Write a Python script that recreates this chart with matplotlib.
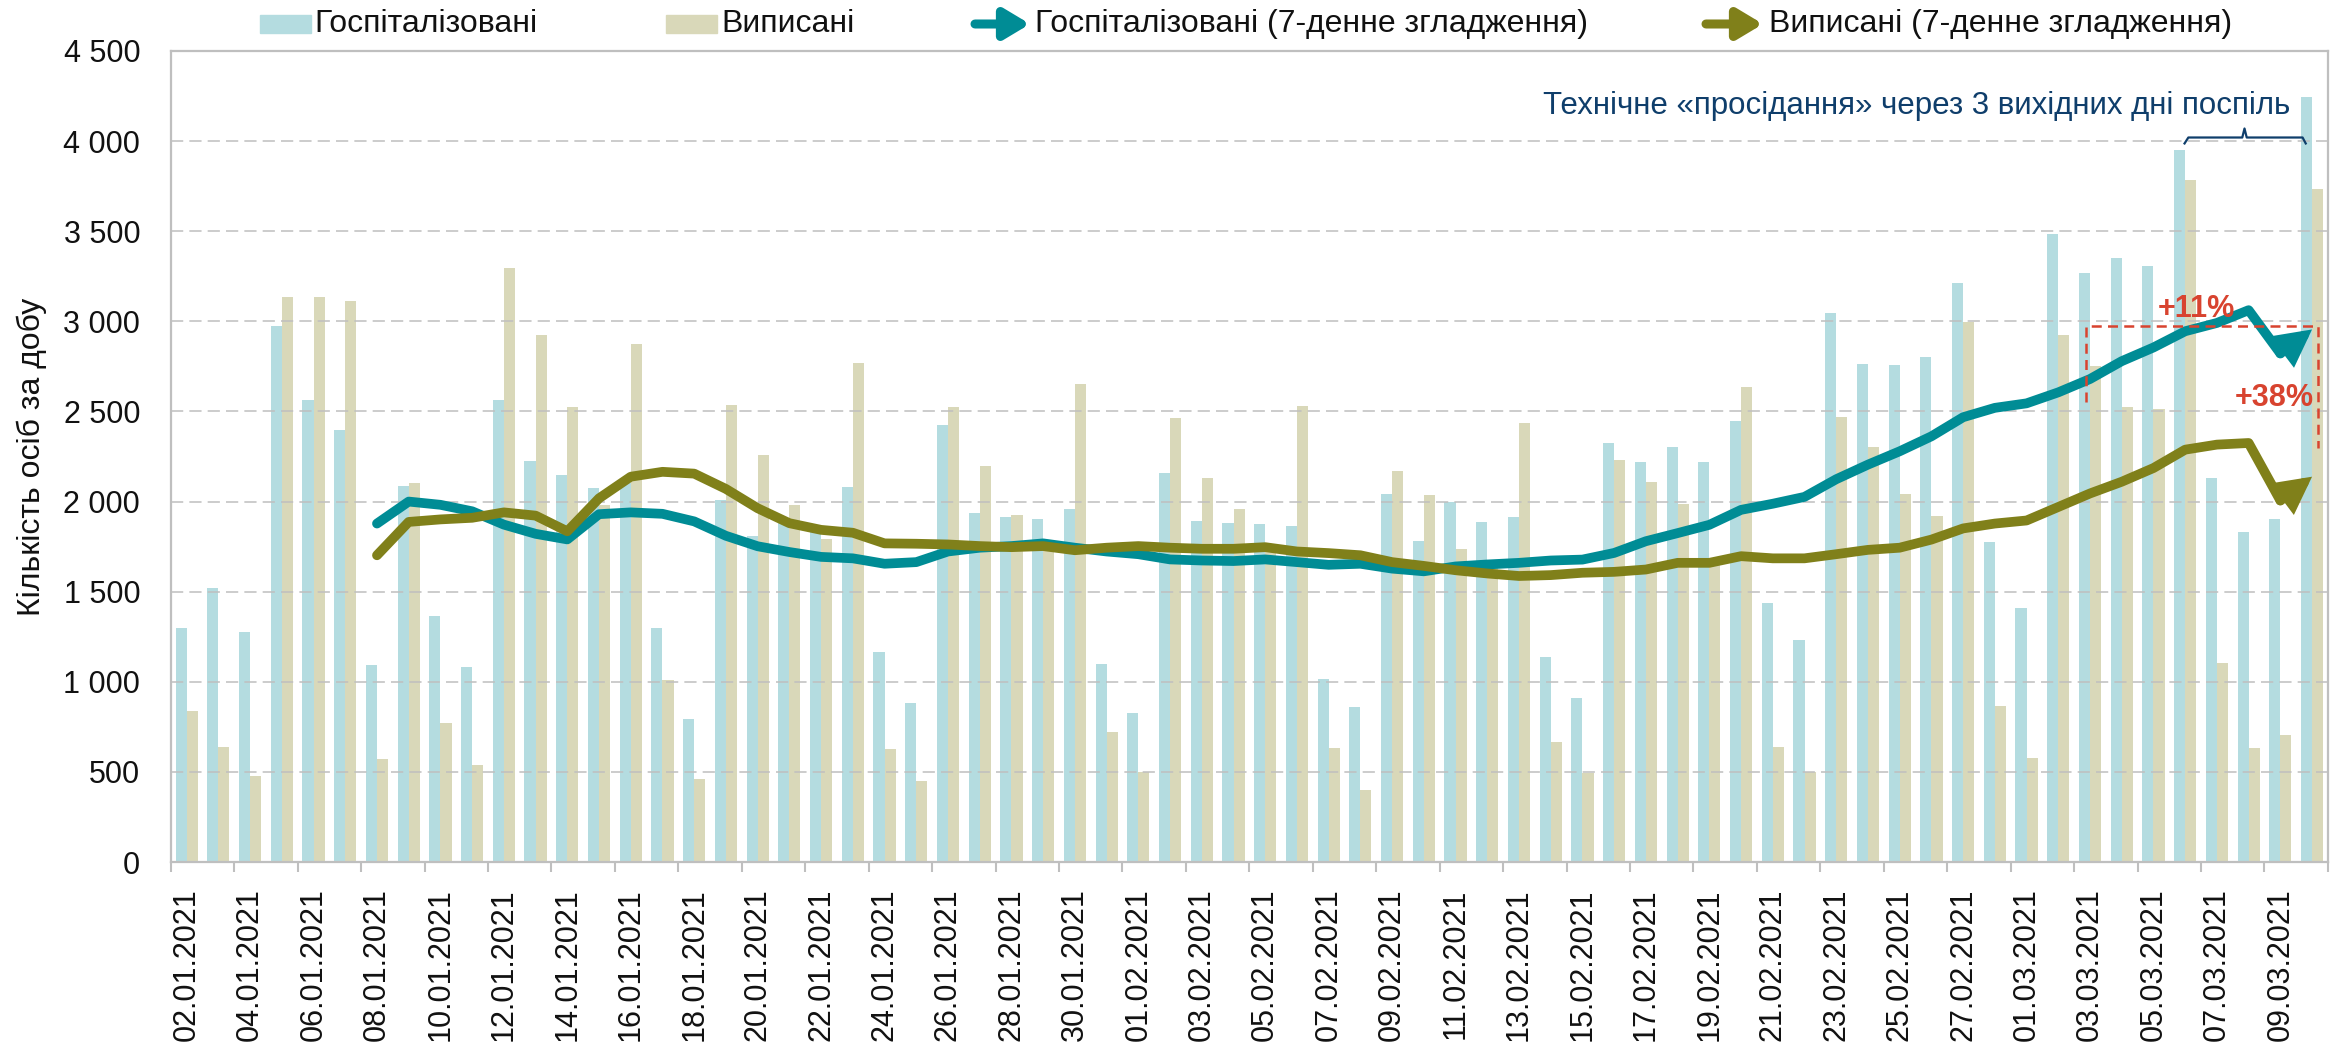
import matplotlib.pyplot as plt
import numpy as np
import pandas as pd
from matplotlib.patches import Rectangle, FancyArrowPatch

plt.rcParams['font.family'] = ['Liberation Sans', 'DejaVu Sans']

# daily values, 02.01.2021 - 10.03.2021
dates = pd.date_range('2021-01-02', '2021-03-10').strftime('%d.%m.%Y').tolist()

hosp = [1298, 1518, 1275, 2974, 2564, 2398, 1093, 2089, 1367, 1084,
        2561, 2225, 2148, 2077, 2101, 1298, 796, 2009, 1811, 1880,
        1840, 2080, 1165, 885, 2427, 1937, 1913, 1904, 1958, 1099,
        829, 2157, 1890, 1881, 1878, 1866, 1016, 862, 2044, 1780,
        2000, 1887, 1914, 1138, 909, 2324, 2218, 2300, 2218, 2445,
        1438, 1233, 3045, 2766, 2757, 2802, 3212, 1777, 1408, 3485,
        3267, 3352, 3307, 3952, 2133, 1833, 1901, 4247]

disch = [838, 636, 475, 3137, 3134, 3114, 570, 2103, 772, 541,
         3295, 2926, 2522, 1980, 2876, 1010, 458, 2537, 2257, 1982,
         1790, 2769, 627, 452, 2522, 2196, 1928, 1760, 2653, 722,
         499, 2463, 2130, 1958, 1740, 2531, 630, 398, 2169, 2038,
         1736, 1630, 2436, 668, 496, 2230, 2107, 1988, 1660, 2635,
         636, 499, 2469, 2303, 2044, 1919, 2998, 868, 579, 2924,
         2751, 2525, 2512, 3783, 1105, 633, 707, 3732]

# 7-day smoothed lines, from 08.01.2021 on
hosp_smooth = [1878, 2000, 1982, 1946, 1872, 1821, 1790, 1930, 1940, 1932,
               1890, 1810, 1752, 1720, 1693, 1685, 1655, 1664, 1723, 1744,
               1753, 1768, 1744, 1723, 1708, 1679, 1673, 1670, 1679, 1664,
               1649, 1655, 1628, 1613, 1640, 1651, 1660, 1673, 1678, 1715,
               1780, 1825, 1871, 1954, 1988, 2026, 2124, 2205, 2279, 2362,
               2468, 2520, 2545, 2606, 2680, 2779, 2855, 2945, 2991, 3062,
               2822, 2955]

disch_smooth = [1702, 1887, 1901, 1910, 1940, 1922, 1835, 2018, 2138, 2165,
                2155, 2070, 1963, 1880, 1843, 1827, 1768, 1766, 1762, 1753,
                1747, 1753, 1730, 1744, 1753, 1744, 1738, 1738, 1747, 1723,
                1714, 1702, 1664, 1643, 1619, 1601, 1587, 1592, 1605, 1610,
                1623, 1660, 1660, 1697, 1685, 1685, 1708, 1732, 1744, 1789,
                1851, 1878, 1895, 1970, 2045, 2110, 2186, 2288, 2316, 2325,
                2006, 2138]

c_blue = '#b4dce0'
c_beige = '#d9d8b9'
c_teal = '#008c95'
c_olive = '#80801a'
c_red = '#d8432f'
c_navy = '#0f3e6b'
c_grey = '#bfbfbf'

fig = plt.figure(figsize=(23.46, 10.45), dpi=100)
ax = fig.add_axes([0.0728, 0.1751, 0.9923 - 0.0728, 0.9512 - 0.1751])

x = np.arange(len(dates))
ax.bar(x - 0.175, hosp, width=0.35, color=c_blue, zorder=1)
ax.bar(x + 0.175, disch, width=0.35, color=c_beige, zorder=1)

xs = x[6:]
for vals, col in [(hosp_smooth, c_teal), (disch_smooth, c_olive)]:
    ax.plot(xs[:-1], vals[:-1], color=col, lw=7, zorder=4,
            solid_capstyle='round', solid_joinstyle='round')
    ax.add_patch(FancyArrowPatch((xs[-2], vals[-2]), (xs[-1], vals[-1]),
                                 arrowstyle='-|>,head_length=0.8,head_width=0.42',
                                 mutation_scale=20, lw=7, color=col,
                                 shrinkA=0, shrinkB=0, zorder=4,
                                 capstyle='round', joinstyle='miter'))

ax.set_xlim(-0.5, len(dates) - 0.5)
ax.set_ylim(0, 4500)
ax.set_yticks(np.arange(0, 4501, 500))
ax.yaxis.set_major_formatter(lambda v, p: f'{v:,.0f}'.replace(',', ' '))
ax.set_xticks(x[::2])
ax.set_xticklabels(dates[::2], rotation=90)
ax.set_xticks(np.arange(-0.5, len(dates), 2), minor=True)
ax.tick_params(axis='x', which='major', length=0, pad=19, labelsize=22, labelcolor='#111111')
ax.tick_params(axis='x', which='minor', length=7, width=1.5, color=c_grey, direction='out')
ax.tick_params(axis='y', length=0, pad=22, labelsize=22, labelcolor='#111111')

ax.yaxis.grid(True, color=c_grey, lw=1.1, ls=(0, (8, 4)))
ax.set_axisbelow(False)
for sp in ax.spines.values():
    sp.set_color(c_grey)
    sp.set_linewidth(1.6)

ax.set_ylabel('Кількість осіб за добу', fontsize=23, color='#111111')
ax.yaxis.set_label_coords(-0.0575, 0.5)

# annotations
ax.text(54.54, 4153, 'Технічне «просідання» через 3 вихідних дні поспіль',
        ha='center', va='baseline', fontsize=22.5, color=c_navy, zorder=6)
ax.plot([62.98, 63.1, 64.8, 64.87, 64.94, 66.7, 66.8],
        [3987, 4020, 4020, 4070, 4020, 4020, 3987], color=c_navy, lw=1.6, zorder=6)

box_ls = (0, (4, 2.5))
ax.plot([59.86, 59.86, 67.18, 67.18], [2552, 2972, 2972, 2299],
        color=c_red, lw=1.8, ls=box_ls, zorder=5)
ax.text(63.36, 3070, '+11%', ha='center', va='center', fontsize=22,
        fontweight='bold', color=c_red, zorder=6)
ax.text(67.05, 2572, '+38%', ha='right', va='center', fontsize=22,
        fontweight='bold', color=c_red, zorder=6)

# legend drawn by hand along the top
W, H = 2346, 1045
ly = 1 - 24 / H
for x0, col in [(260, c_blue), (666, c_beige)]:
    fig.add_artist(Rectangle((x0 / W, ly - 9 / H), 51 / W, 18 / H,
                             color=col, transform=fig.transFigure))
for x0, x1, col in [(975, 1030, c_teal), (1706, 1763, c_olive)]:
    fig.add_artist(FancyArrowPatch((x0 / W, ly), (x1 / W, ly),
                                   arrowstyle='-|>,head_length=0.75,head_width=0.45',
                                   mutation_scale=20, lw=6.5, color=col,
                                   shrinkA=0, shrinkB=0, transform=fig.transFigure,
                                   capstyle='round'))
for x0, label in [(314, 'Госпіталізовані'), (721, 'Виписані'),
                  (1035, 'Госпіталізовані (7-денне згладження)'),
                  (1769, 'Виписані (7-денне згладження)')]:
    fig.text(x0 / W, ly, label, ha='left', va='center', fontsize=23, color='#111111')

fig.savefig('out.png', dpi=100)
